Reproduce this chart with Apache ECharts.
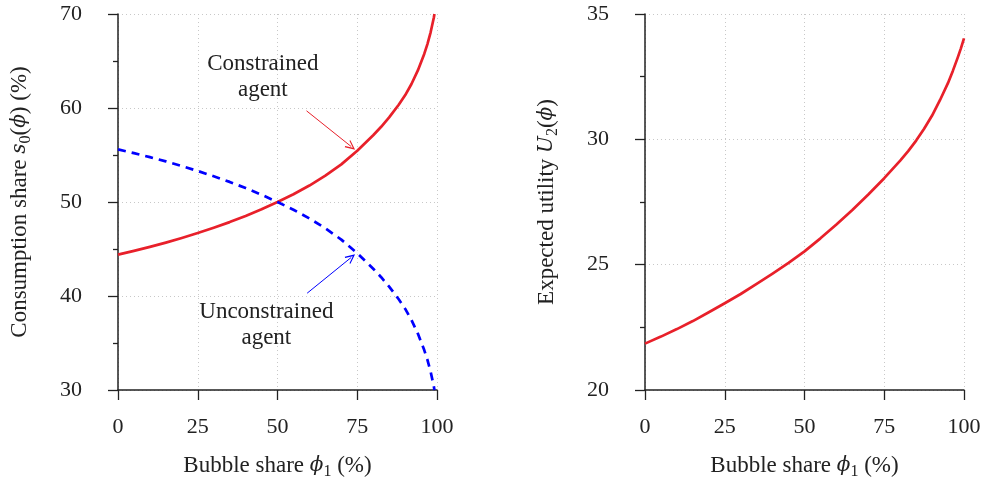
<!DOCTYPE html>
<html>
<head>
<meta charset="utf-8">
<script src="https://cdn.jsdelivr.net/npm/echarts@6/dist/echarts.min.js"></script>
<style>
  html, body { margin: 0; background: #fff; }
  #chart { width: 983px; height: 479px; }
</style>
</head>
<body>
<div id="chart"></div>
<script>
// bubble share phi_1 (%) where the left curves were read
const phiLeft = [0, 5, 10, 15, 20, 25, 30, 35, 40, 45, 50, 55, 60, 65, 70, 75, 80, 82.5, 85, 88, 90, 92, 94, 96, 97, 98, 99, 99.2];
// consumption share s0 (%) of the constrained agent
const constrained = [44.4, 44.8, 45.23, 45.68, 46.17, 46.7, 47.26, 47.86, 48.52, 49.23, 50.0, 50.82, 51.75, 52.8, 54.0, 55.45, 57.1, 58.0, 59.0, 60.35, 61.35, 62.55, 64.0, 65.75, 66.8, 68.05, 69.6, 70.0];
// consumption share of the unconstrained agent
const unconstrained = [55.6, 55.2, 54.77, 54.32, 53.83, 53.3, 52.74, 52.14, 51.48, 50.77, 50.0, 49.18, 48.25, 47.2, 46.0, 44.55, 42.9, 42.0, 41.0, 39.65, 38.65, 37.45, 36.0, 34.25, 33.2, 31.95, 30.4, 30.0];

// right panel: expected utility U2
const phiRight = [0, 5, 10, 15, 20, 25, 30, 35, 40, 45, 50, 55, 60, 65, 70, 75, 80, 82.5, 85, 87.5, 90, 92.5, 95, 96.5, 98, 99, 100];
const utility = [21.85, 22.13, 22.43, 22.75, 23.1, 23.46, 23.83, 24.23, 24.64, 25.07, 25.53, 26.05, 26.6, 27.18, 27.8, 28.45, 29.15, 29.53, 29.95, 30.42, 30.95, 31.57, 32.25, 32.73, 33.25, 33.62, 34.03];

// annotation anchors, in data units of the left panel
const constrainedText = [45.4, 63.3];
const constrainedArrow = [[59.1, 59.7], [73.1, 55.9]];
const unconstrainedText = [46.5, 36.9];
const unconstrainedArrow = [[59.3, 40.3], [73.1, 44.1]];

const RED = '#e8202a';
const BLUE = '#0000ff';
const FONT = 'Liberation Serif';
const INK = '#222';
const GRID = '#c8c8c8';
// thin open arrow head, pointing up before ECharts turns it along the line
const ARROW_HEAD = 'path://M0,10 L5,0 L10,10 L8.8,10.4 L5,3 L1.2,10.4 Z';

function pairs(xs, ys) {
  return xs.map((x, i) => [x, ys[i]]);
}

const richName = {
  i: { fontFamily: 'DejaVu Serif', fontStyle: 'italic', fontSize: 20, color: INK },
  sub: { fontFamily: FONT, fontSize: 16, color: INK, padding: [12, 0, 0, 0] }
};

function xAxis(idx) {
  return {
    type: 'value', gridIndex: idx, min: 0, max: 100, interval: 25,
    name: 'Bubble share {i|ϕ}{sub|1} (%)',
    nameLocation: 'middle', nameGap: 62,
    nameTextStyle: { fontFamily: FONT, fontSize: 23, color: INK, rich: richName },
    axisLine: { show: true, lineStyle: { color: INK, width: 1.5 } },
    axisTick: { show: true, inside: false, length: 10, lineStyle: { color: INK, width: 1.3 } },
    axisLabel: { margin: 26, fontFamily: FONT, fontSize: 22, color: INK },
    splitLine: { show: true, lineStyle: { type: [1, 3], color: GRID, width: 1 } }
  };
}

function yAxis(idx, min, max, step, name) {
  return {
    type: 'value', gridIndex: idx, min: min, max: max, interval: step,
    name: name, nameLocation: 'middle', nameGap: 84,
    nameTextStyle: { fontFamily: FONT, fontSize: 23, color: INK, rich: richName },
    axisLine: { show: true, lineStyle: { color: INK, width: 1.5 } },
    axisTick: { show: true, inside: false, length: 10, lineStyle: { color: INK, width: 1.3 } },
    minorTick: { show: true, splitNumber: 2, length: 5, lineStyle: { color: INK, width: 1.3 } },
    axisLabel: { margin: 36, fontFamily: FONT, fontSize: 22, color: INK },
    splitLine: { show: true, lineStyle: { type: [1, 3], color: GRID, width: 1 } }
  };
}

function note(text, at, color, arrow) {
  return {
    markPoint: {
      symbol: 'circle', symbolSize: 0, silent: true, animation: false,
      label: { show: true, position: 'inside', formatter: text, fontFamily: FONT, fontSize: 23, lineHeight: 26, color: INK },
      data: [{ coord: at }]
    },
    markLine: {
      symbol: ['none', ARROW_HEAD], symbolSize: [9, 10], silent: true, animation: false,
      lineStyle: { color: color, width: 1, type: 'solid' },
      label: { show: false },
      data: [[{ coord: arrow[0] }, { coord: arrow[1] }]]
    }
  };
}

const chart = echarts.init(document.getElementById('chart'));
chart.setOption({
  animation: false,
  backgroundColor: '#fff',
  grid: [
    { left: 118, right: 546, top: 14, bottom: 89, outerBoundsMode: 'none' },
    { left: 645, right: 19, top: 14, bottom: 89, outerBoundsMode: 'none' }
  ],
  xAxis: [xAxis(0), xAxis(1)],
  yAxis: [
    yAxis(0, 30, 70, 10, 'Consumption share {i|s}{sub|0}({i|ϕ}) (%)'),
    yAxis(1, 20, 35, 5, 'Expected utility {i|U}{sub|2}({i|ϕ})')
  ],
  series: [
    Object.assign({
      type: 'line', xAxisIndex: 0, yAxisIndex: 0, showSymbol: false, smooth: false,
      data: pairs(phiLeft, constrained),
      lineStyle: { color: RED, width: 2.7, join: 'round' }, itemStyle: { color: RED }
    }, note('Constrained\nagent', constrainedText, RED, constrainedArrow)),
    Object.assign({
      type: 'line', xAxisIndex: 0, yAxisIndex: 0, showSymbol: false, smooth: false,
      data: pairs(phiLeft, unconstrained),
      lineStyle: { color: BLUE, width: 2.7, type: [8, 6], join: 'round' }, itemStyle: { color: BLUE }
    }, note('Unconstrained\nagent', unconstrainedText, BLUE, unconstrainedArrow)),
    {
      type: 'line', xAxisIndex: 1, yAxisIndex: 1, showSymbol: false, smooth: false,
      data: pairs(phiRight, utility),
      lineStyle: { color: RED, width: 2.7, join: 'round' }, itemStyle: { color: RED }
    }
  ]
});
</script>
</body>
</html>
